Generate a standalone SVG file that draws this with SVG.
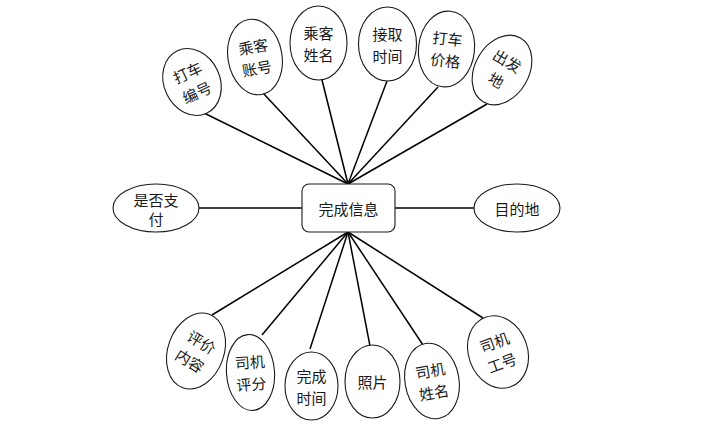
<svg xmlns="http://www.w3.org/2000/svg" width="713" height="437" viewBox="0 0 713 437">
<style>
.e{fill:#fff;stroke:#1a1a1a;stroke-width:1.1}
.t{font-family:"Noto Sans CJK SC","Noto Sans",sans-serif;font-size:15px;fill:#1a1a1a;text-anchor:middle;dominant-baseline:central}
.c line{stroke:#000;stroke-width:1.5}
</style>
<rect width="713" height="437" fill="#fff"/>
<g class="c" id="connectors">
<line x1="348" y1="184" x2="204" y2="113"/>
<line x1="348" y1="184" x2="263" y2="93"/>
<line x1="348" y1="184" x2="322" y2="80"/>
<line x1="348" y1="184" x2="387" y2="81"/>
<line x1="348" y1="184" x2="438" y2="87"/>
<line x1="348" y1="184" x2="487" y2="104"/>
<line x1="199" y1="208" x2="302" y2="208"/>
<line x1="395" y1="208" x2="474" y2="208"/>
<line x1="348" y1="232" x2="212" y2="315"/>
<line x1="348" y1="232" x2="262" y2="335"/>
<line x1="348" y1="232" x2="310" y2="349"/>
<line x1="348" y1="232" x2="370" y2="346"/>
<line x1="348" y1="232" x2="423" y2="345"/>
<line x1="348" y1="232" x2="483" y2="318"/>
</g>
<g id="center">
<rect x="302" y="184" width="93" height="48" rx="7" fill="#fff" stroke="#1a1a1a" stroke-width="1.1"/>
<text class="t" x="348.5" y="208">完成信息</text>
</g>
<g id="n1" transform="translate(192,82) rotate(-25)">
<ellipse class="e" rx="28" ry="34.5"/>
<text class="t" y="-11">打车</text><text class="t" y="11">编号</text>
</g>
<g id="n2" transform="translate(255,57) rotate(-10)">
<ellipse class="e" rx="27" ry="38"/>
<text class="t" y="-11">乘客</text><text class="t" y="11">账号</text>
</g>
<g id="n3" transform="translate(318.5,43)">
<ellipse class="e" rx="28.5" ry="37"/>
<text class="t" y="-11">乘客</text><text class="t" y="11">姓名</text>
</g>
<g id="n4" transform="translate(387.5,44)">
<ellipse class="e" rx="29" ry="37"/>
<text class="t" y="-11">接取</text><text class="t" y="11">时间</text>
</g>
<g id="n5" transform="translate(446.5,49) rotate(6)">
<ellipse class="e" rx="28" ry="38"/>
<text class="t" y="-11">打车</text><text class="t" y="11">价格</text>
</g>
<g id="n6" transform="translate(502,70) rotate(30)">
<ellipse class="e" rx="27" ry="37"/>
<text class="t" y="-11">出发</text><text class="t" y="11">地</text>
</g>
<g id="n7" transform="translate(156,208)">
<ellipse class="e" rx="43" ry="24"/>
<text class="t" y="-9">是否支</text><text class="t" y="10">付</text>
</g>
<g id="n8" transform="translate(517,208)">
<ellipse class="e" rx="43" ry="24"/>
<text class="t">目的地</text>
</g>
<g id="n9" transform="translate(196,351) rotate(20)">
<ellipse class="e" rx="28" ry="39"/>
<text class="t" y="-11" transform="rotate(12)">评价</text><text class="t" y="11" transform="rotate(12)">内容</text>
</g>
<g id="n10" transform="translate(250.5,372.5) rotate(-4)">
<ellipse class="e" rx="24" ry="38"/>
<text class="t" y="-11">司机</text><text class="t" y="11">评分</text>
</g>
<g id="n11" transform="translate(311.5,386)">
<ellipse class="e" rx="26.5" ry="34"/>
<text class="t" y="-11">完成</text><text class="t" y="11">时间</text>
</g>
<g id="n12" transform="translate(372.5,381.5)">
<ellipse class="e" rx="27.5" ry="36.5"/>
<text class="t">照片</text>
</g>
<g id="n13" transform="translate(432,381) rotate(-10)">
<ellipse class="e" rx="27" ry="38"/>
<text class="t" y="-11">司机</text><text class="t" y="11">姓名</text>
</g>
<g id="n14" transform="translate(498,352) rotate(-20)">
<ellipse class="e" rx="29.5" ry="37"/>
<text class="t" y="-11">司机</text><text class="t" y="11">工号</text>
</g>
</svg>
